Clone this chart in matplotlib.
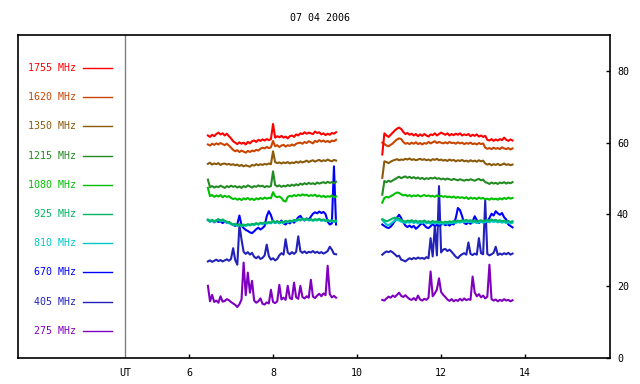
import numpy as np
import matplotlib
matplotlib.use("Agg")
import matplotlib.pyplot as plt

title = "07 04 2006"
freqs = ["1755 MHz", "1620 MHz", "1350 MHz", "1215 MHz", "1080 MHz",
         "925 MHz", "810 MHz", "670 MHz", "405 MHz", "275 MHz"]
colors = ["#ff0000", "#c84600", "#8b5a0a", "#228b22", "#00c000",
          "#00b464", "#00c8c8", "#0000ff", "#2222bb", "#8000c0"]
xticks = [6, 8, 10, 12, 14]
yticks = [0, 20, 40, 60, 80]

# time grids (UT hours) of the two observation segments
t1 = 6.45 + 0.05 * np.arange(62)
t2 = 10.60 + 0.05 * np.arange(63)

s1755_a = [62.0, 61.6, 62.2, 61.8, 62.4, 62.8, 62.3, 62.6, 62.0, 62.5,
           61.8, 61.2, 60.4, 60.0, 59.6, 60.1, 59.7, 60.0, 59.5, 60.2,
           59.8, 60.4, 60.6, 60.2, 60.8, 60.5, 60.9, 60.6, 61.0, 60.7,
           61.0, 65.2, 61.4, 61.8, 61.5, 61.9, 61.4, 61.7, 61.2, 61.8,
           62.0, 61.6, 62.3, 62.0, 62.6, 62.4, 62.9, 62.5, 62.8, 62.6,
           62.4, 63.1, 62.7, 62.9, 62.3, 62.6, 62.1, 62.5, 62.2, 62.7, 62.5, 62.9]
s1755_b = [56.7, 62.6, 62.0, 61.6, 62.2, 62.8, 63.4, 63.9, 64.2, 63.8,
           63.0, 62.4, 62.7, 62.2, 62.5, 62.0, 62.4, 61.8, 62.3, 61.9,
           62.4, 62.0, 61.7, 62.3, 62.1, 62.6, 62.0, 62.4, 62.8, 62.5,
           62.2, 62.6, 62.0, 62.4, 62.1, 62.5, 62.2, 62.6, 62.0, 62.3,
           62.1, 62.4, 61.8, 62.2, 61.9, 62.3, 61.7, 62.0, 61.6, 61.9,
           60.8, 60.6, 61.0, 60.5, 60.9, 60.6, 61.0, 60.7, 61.4, 60.8,
           60.5, 60.9, 60.6]
s1620_a = [59.5, 59.2, 59.7, 59.4, 59.8, 59.5, 59.9, 59.6, 59.3, 59.7,
           59.2, 58.6, 58.0, 57.6, 57.9, 57.4, 57.8, 57.5, 57.2, 57.7,
           57.4, 57.8, 57.6, 58.0, 57.8, 58.3, 58.6, 58.4, 58.8, 58.5,
           58.7, 60.5, 59.0, 59.3, 58.8, 59.2, 59.4, 58.9, 59.3, 59.1,
           59.5, 59.2, 59.7, 59.9, 60.0, 59.7, 60.2, 59.9, 60.4, 60.1,
           59.8, 60.5, 60.2, 60.7, 60.3, 60.6, 60.2, 60.5, 60.1, 60.6, 60.4, 60.8]
s1620_b = [60.0, 59.6, 59.2, 59.0, 59.4, 59.8, 60.4, 60.9, 61.2, 61.0,
           60.2, 59.7, 59.9, 59.6, 60.0, 59.7, 60.1, 59.6, 59.9, 59.5,
           59.9, 59.7, 60.2, 59.8, 60.1, 60.4, 59.9, 60.2, 60.0, 59.8,
           60.1, 59.8, 60.2, 59.9, 60.0, 59.7, 60.1, 59.8, 60.0, 59.6,
           59.9, 59.7, 60.0, 59.6, 59.8, 59.5, 59.9, 59.6, 59.8, 58.6,
           58.3, 58.5, 58.2, 58.6, 58.3, 58.5, 58.2, 58.7, 58.4, 58.2,
           58.5, 58.1, 58.4]
s1350_a = [54.1, 54.4, 53.9, 54.2, 54.0, 54.3, 53.8, 54.1, 54.2, 53.9,
           54.1, 53.8, 54.0, 53.7, 53.9, 53.5, 53.8, 53.4, 53.7, 53.5,
           53.3, 53.8, 53.6, 54.0, 53.7, 54.0, 53.8, 54.1, 53.9, 54.2,
           54.0, 57.6, 54.6, 54.3, 54.5, 54.2, 54.5, 54.3, 54.6, 54.2,
           54.5, 54.3, 54.7, 54.4, 54.8, 54.5, 54.7, 55.0, 54.6, 54.9,
           55.1, 54.7, 55.0, 55.2, 54.8, 55.1, 54.9, 55.3, 55.0, 54.8, 55.2, 55.0]
s1350_b = [50.2, 54.8, 54.6, 54.3, 54.7, 55.0, 55.2, 55.4, 55.1, 55.3,
           55.2, 55.5, 55.3, 55.6, 55.2, 55.4, 55.1, 55.3, 55.5, 55.2,
           55.4, 55.1, 55.3, 55.0, 55.4, 55.2, 55.5, 55.1, 55.3, 55.0,
           55.2, 54.9, 55.3, 55.0, 55.2, 54.8, 55.1, 54.9, 55.2, 54.8,
           55.0, 54.7, 55.1, 54.8, 55.0, 54.7, 55.1, 54.8, 55.0, 54.2,
           53.9, 54.1, 53.7, 54.0, 53.8, 54.1, 53.7, 53.9, 54.2, 53.8,
           54.0, 53.7, 53.9]
s1215_a = [49.7, 47.6, 47.9, 47.5, 47.8, 47.6, 48.0, 47.7, 47.4, 47.9,
           47.6, 48.0, 47.7, 47.9, 47.5, 47.8, 47.4, 47.9, 47.6, 48.1,
           47.8, 47.5, 47.9, 47.7, 48.1, 47.8, 48.0, 47.6, 47.9, 47.7,
           47.9, 52.0, 48.2, 47.8, 48.1, 47.7, 48.0, 47.8, 48.2, 47.9,
           48.3, 48.0, 48.4, 48.1, 48.6, 48.3, 48.7, 48.4, 48.8, 48.5,
           48.7, 48.4, 48.9, 48.6, 48.8, 49.0, 48.7, 49.1, 48.8, 49.0, 48.7, 49.1]
s1215_b = [45.5, 49.3, 49.0, 49.4, 49.1, 49.5, 49.8, 50.2, 50.5, 50.1,
           50.4, 50.6, 50.2, 50.5, 50.1, 50.4, 50.0, 50.3, 49.9, 50.2,
           49.8, 50.1, 49.9, 50.2, 50.0, 50.3, 49.9, 50.1, 49.8, 50.0,
           49.7, 50.0, 49.8, 49.6, 49.9, 49.7, 49.5, 49.8, 49.6, 49.4,
           49.7, 49.5, 49.8, 49.6, 49.4, 49.7, 49.9, 49.5, 49.7, 49.0,
           48.8, 48.5, 48.9, 48.6, 48.8, 48.5, 48.9, 48.7, 49.0, 48.6,
           48.9, 48.7, 49.0]
s1080_a = [47.4, 45.1, 45.4, 44.9, 45.3, 45.0, 45.4, 44.8, 45.2, 44.9,
           45.1, 44.6, 44.3, 44.5, 44.1, 44.4, 44.0, 44.5, 44.2, 44.6,
           44.1, 44.4, 44.0, 44.5, 44.2, 44.6, 44.3, 44.7, 44.4, 44.6,
           44.5, 46.2, 45.1, 44.8, 45.0, 44.6, 43.8, 43.6, 44.9, 45.2,
           45.0, 45.4, 45.1, 45.5, 45.2, 45.6, 45.3, 45.5, 45.1, 45.4,
           45.2, 45.5, 45.0, 45.3, 44.9, 45.2, 44.8, 45.1, 44.9, 45.3, 44.8, 45.0]
s1080_b = [43.3, 44.6, 44.9, 44.7, 45.1, 45.4, 45.8, 46.1, 46.0, 45.6,
           45.3, 45.5, 45.1, 45.4, 45.0, 45.3, 45.1, 45.4, 45.0, 45.2,
           45.4, 45.1, 45.3, 45.0, 45.2, 44.9, 45.3, 45.0, 45.2, 44.9,
           45.1, 44.8, 45.0, 44.7, 45.0, 44.6, 44.9, 44.6, 44.8, 44.5,
           44.8, 44.3, 44.7, 44.4, 44.6, 44.3, 44.7, 44.4, 44.6, 44.2,
           44.4, 44.1, 44.5, 44.2, 44.4, 44.1, 44.5, 44.2, 44.6, 44.3,
           44.7, 44.4, 44.6]
s925_a = [38.6, 38.2, 38.5, 38.1, 38.4, 38.7, 38.3, 38.6, 38.2, 38.0,
          37.8, 37.5, 37.2, 37.4, 37.0, 37.3, 36.9, 37.2, 37.0, 37.3,
          37.1, 37.4, 37.2, 37.6, 37.3, 37.7, 37.5, 37.8, 37.6, 37.9,
          37.7, 38.3, 37.8, 38.1, 37.7, 38.0, 37.8, 38.2, 38.0, 38.3,
          38.1, 38.5, 38.3, 38.7, 38.5, 38.9, 38.6, 38.8, 38.5, 38.7,
          38.4, 38.7, 38.5, 38.8, 38.4, 38.6, 38.3, 38.5, 38.2, 38.4, 38.1, 38.3]
s925_b = [38.7, 38.4, 38.1, 38.3, 38.6, 38.9, 39.1, 39.0, 38.8, 38.5,
          38.2, 38.0, 38.3, 38.1, 38.4, 38.0, 38.3, 37.9, 38.2, 38.0,
          38.3, 37.9, 38.1, 37.8, 38.2, 37.9, 38.1, 37.8, 38.0, 37.7,
          38.0, 37.8, 38.1, 37.9, 38.2, 38.0, 38.3, 38.1, 38.4, 38.2,
          38.5, 38.2, 38.4, 38.1, 38.3, 38.0, 38.2, 38.4, 38.1, 38.3,
          38.5, 38.2, 38.6, 38.3, 38.5, 38.2, 38.4, 38.1, 38.3, 38.0,
          38.2, 37.9, 38.1]
s810_a = [38.4, 38.0, 38.3, 37.9, 38.2, 38.5, 38.1, 38.4, 38.0, 37.8,
          37.6, 37.3, 37.0, 37.2, 36.8, 37.1, 36.7, 37.0, 36.8, 37.1,
          36.9, 37.2, 37.0, 37.4, 37.1, 37.5, 37.3, 37.6, 37.4, 37.7,
          37.5, 38.0, 37.6, 37.9, 37.5, 37.8, 37.6, 38.0, 37.8, 38.1,
          37.9, 38.3, 38.1, 38.5, 38.3, 38.7, 38.4, 38.6, 38.3, 38.5,
          38.2, 38.5, 38.3, 38.6, 38.2, 38.4, 38.1, 38.3, 38.0, 38.2, 37.9, 38.1]
s810_b = [38.5, 37.8, 37.2, 37.0, 37.4, 37.9, 38.3, 38.5, 38.3, 38.0,
          37.8, 37.6, 37.9, 37.7, 38.0, 37.6, 37.9, 37.5, 37.8, 37.6,
          37.9, 37.5, 37.7, 37.4, 37.8, 37.5, 37.7, 37.4, 37.6, 37.3,
          37.6, 37.4, 37.7, 37.5, 37.8, 37.6, 37.9, 37.7, 38.0, 37.8,
          38.1, 37.8, 38.0, 37.7, 37.9, 37.6, 37.8, 38.0, 37.7, 37.9,
          38.1, 37.8, 38.2, 37.9, 38.1, 37.8, 38.0, 37.7, 37.9, 37.6,
          37.8, 37.5, 37.7]
s670_a = [38.4, 38.0, 38.3, 37.8, 38.2, 37.9, 38.1, 37.6, 38.0, 37.7,
          37.9, 37.4, 37.1, 36.8, 37.3, 39.7, 37.0, 36.2, 35.7, 35.4,
          35.0, 34.8, 35.3, 35.9, 36.3, 35.8, 36.2, 36.8, 39.5, 40.9,
          39.8, 38.0, 37.6, 38.1, 37.7, 38.3, 37.5, 37.2, 37.9, 37.5,
          38.1, 37.7, 38.4, 39.2, 39.6, 38.8, 38.3, 38.9, 38.5, 39.4,
          40.2, 40.6, 40.3, 40.8, 40.4, 40.7, 40.1, 38.0, 37.2, 37.5, 53.4, 37.2]
s670_b = [37.2, 36.8, 36.4, 36.2, 36.6, 37.3, 38.2, 39.1, 39.9, 39.0,
          37.8, 36.9, 36.5, 36.9, 36.4, 36.8, 36.0, 36.5, 37.1, 37.6,
          37.0, 36.4, 36.2, 36.7, 37.3, 36.8, 37.1, 36.9, 37.2, 37.4,
          37.0, 37.3, 36.9, 37.4, 37.2, 39.0, 41.8, 41.2, 39.5, 37.6,
          37.3, 37.8, 37.4, 38.0, 39.5, 38.4, 37.6, 38.1, 37.8, 38.3,
          38.0, 39.0, 40.2, 39.7, 40.9, 40.3, 39.9, 40.4, 39.2, 38.6,
          37.2, 36.8, 36.4]
s405_a = [26.9, 27.2, 26.8, 27.1, 27.4, 27.0, 27.3, 26.9, 27.2, 27.5,
          27.1, 27.6, 30.6, 27.3, 26.0, 37.2, 33.0, 29.6, 29.0, 29.5,
          28.8, 29.3, 28.2, 27.8, 28.3, 27.6, 27.9, 28.6, 31.6, 28.4,
          27.4, 27.8, 27.2, 27.6, 28.6, 29.2, 28.8, 33.1, 29.4, 28.9,
          29.5, 29.0, 29.6, 33.9, 29.8, 29.3, 29.7, 29.2, 29.6, 29.4,
          29.8, 29.3, 29.6, 29.2, 29.5, 29.1, 29.4, 29.8, 31.0, 30.2, 29.0, 28.9]
s405_b = [28.8, 29.3, 29.7, 29.5, 29.8, 29.4, 28.9, 28.3, 28.5, 27.4,
          27.2, 26.9, 27.4, 27.8, 27.5, 27.9, 27.6, 28.0, 27.7, 27.9,
          27.6, 28.1, 27.8, 33.4, 28.3, 36.7, 28.6, 47.9, 29.4, 30.2,
          30.4, 29.8, 30.2, 29.6, 28.9, 28.2, 27.8, 28.5, 28.9, 29.2,
          28.8, 32.2, 29.0, 28.7, 29.1, 28.8, 33.4, 29.2, 28.9, 43.9,
          29.0, 28.6, 28.9, 29.3, 31.0, 28.7, 29.1, 28.8, 29.2, 28.9,
          29.3, 28.8, 29.1]
s275_a = [20.1, 15.8, 17.6, 15.6, 16.0, 15.4, 17.2, 15.7, 15.9, 16.4,
          16.1, 15.6, 15.2, 14.8, 14.2, 15.0, 16.3, 26.6, 17.5, 23.8,
          18.2, 21.5, 16.0, 15.4, 15.8, 16.6, 15.1, 14.9, 15.5, 15.2,
          19.0, 15.6, 15.3, 15.8, 20.4, 16.3, 16.8, 16.2, 20.1, 16.7,
          16.4, 21.0, 16.9, 16.5, 20.1, 17.0, 16.6, 17.2, 16.8, 21.8,
          17.1, 16.7, 17.4, 17.9, 17.2, 18.0, 17.5, 25.7, 17.8, 16.9, 17.3, 16.8]
s275_b = [16.2, 16.0, 16.6, 17.1, 16.8, 17.4, 17.0, 17.6, 18.2, 17.3,
          17.0, 17.5, 16.9, 16.4, 16.2, 16.7, 16.1, 17.4, 16.3, 16.0,
          16.5, 16.2, 16.8, 24.1, 17.2, 18.0, 19.1, 22.2, 18.4, 17.6,
          17.0, 16.3, 15.9, 16.4, 15.8, 16.2, 15.9, 16.5, 16.0, 16.6,
          16.1, 16.4, 16.2, 22.7, 18.3, 17.2, 17.8, 16.9, 17.4, 16.6,
          17.1, 26.0, 16.4, 16.0, 16.3, 15.8, 16.2, 15.9, 16.4, 16.0,
          16.2, 15.8, 16.1]

series_a = [s1755_a, s1620_a, s1350_a, s1215_a, s1080_a,
            s925_a, s810_a, s670_a, s405_a, s275_a]
series_b = [s1755_b, s1620_b, s1350_b, s1215_b, s1080_b,
            s925_b, s810_b, s670_b, s405_b, s275_b]

mono = "DejaVu Sans Mono"
fig = plt.figure(figsize=(6.4, 3.84), dpi=100)
ax = fig.add_axes([18 / 640, 1 - 358 / 384, 592 / 640, 323 / 384])

# draw lower frequencies first so higher ones lie on top
for k in range(len(freqs) - 1, -1, -1):
    ax.plot(t1, series_a[k], color=colors[k], lw=1.5)
    ax.plot(t2, series_b[k], color=colors[k], lw=1.5)

ax.set_xlim(1.93, 16.02)
ax.set_ylim(0, 90)
ax.axvline(4.48, color="#808080", lw=1)

ax.set_xticks(xticks)
ax.set_xticklabels([str(v) for v in xticks], fontfamily=mono, fontsize=7.2)
ax.set_yticks(yticks)
ax.set_yticklabels([str(v) for v in yticks], fontfamily=mono, fontsize=7.2)
ax.yaxis.tick_right()
ax.tick_params(axis="x", direction="in", length=3, pad=7, width=1)
ax.tick_params(axis="y", direction="in", length=3, pad=5, width=1)
for sp in ax.spines.values():
    sp.set_linewidth(1.2)

ax.text(4.48, -0.03, "UT", transform=ax.get_xaxis_transform(),
        ha="center", va="top", fontfamily=mono, fontsize=7.2)

# legend column
for i, (lab, c) in enumerate(zip(freqs, colors)):
    yf = (358 - (68 + 29.2 * i)) / 323
    ax.text(0.098, yf, lab, color=c, transform=ax.transAxes,
            ha="right", va="center", fontfamily=mono, fontsize=7.2)
    ax.plot([0.110, 0.159], [yf, yf], color=c, lw=1, transform=ax.transAxes)

fig.text(0.5, 1 - 18 / 384, title, ha="center", va="center",
         fontfamily=mono, fontsize=7.2)

fig.savefig("out.png", dpi=100)
